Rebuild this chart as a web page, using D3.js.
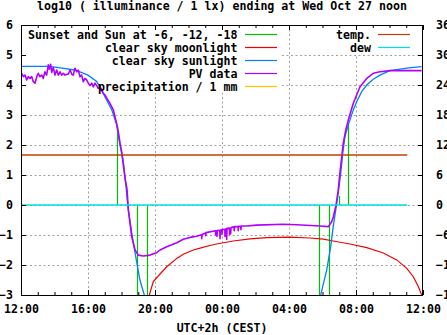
<!DOCTYPE html>
<html><head><meta charset="utf-8">
<script src="https://cdn.jsdelivr.net/npm/d3@7"></script>
<style>
html,body{margin:0;padding:0;background:#fff;}
svg{display:block;}
text{font-family:"DejaVu Sans Mono","Liberation Mono",monospace;font-weight:bold;font-size:11.6px;fill:#000;}
</style></head><body>
<svg id="c" width="447" height="335"></svg>
<script>
// ---------- data (hours after 12:00 on Oct 26) ----------
const title = "log10 ( illuminance / 1 lx) ending at Wed Oct 27 noon";
const xLabel = "UTC+2h (CEST)";
const xTickHours = [0, 4, 8, 12, 16, 20, 24];
const xTickLabels = ["12:00", "16:00", "20:00", "00:00", "04:00", "08:00", "12:00"];
const yLeftTicks = [-3, -2, -1, 0, 1, 2, 3, 4, 5, 6];
const yRightTicks = [-18, -12, -6, 0, 6, 12, 18, 24, 30, 36];

// Sunset / sunrise and Sun at -6, -12, -18 degrees: [hour, value]
const sunEvents = [[5.74, 2.6], [6.31, 0.5], [6.94, -3.5], [7.54, -3.5],
                   [17.81, -3.5], [18.41, -3.5], [19.00, 0.3], [19.54, 2.7]];

// clear sky moonlight
const moonlight = [[7.66, -3.0], [7.90, -2.55], [8.30, -2.3], [8.70, -2.06], [9.30, -1.78],
  [9.69, -1.64], [10.29, -1.5], [10.69, -1.44], [11.28, -1.35], [11.68, -1.3], [12.67, -1.2],
  [13.67, -1.13], [14.67, -1.09], [16.06, -1.07], [17.25, -1.1], [18.05, -1.14], [18.64, -1.2],
  [19.64, -1.3], [20.64, -1.42], [21.63, -1.6], [22.43, -1.83], [23.03, -2.11], [23.42, -2.39],
  [23.72, -2.72], [23.92, -3.0]];

// clear sky sunlight (null = gap during the night)
const sunlight = [[0, 4.62], [1.73, 4.62], [2.33, 4.57], [3.22, 4.5], [4.0, 4.33], [4.52, 4.12],
  [4.91, 3.72], [5.42, 3.17], [5.71, 2.67], [5.91, 2.0], [6.11, 1.44], [6.21, 0.94], [6.41, -0.17],
  [6.61, -0.93], [6.81, -1.6], [7.10, -2.5], [7.36, -3.0], [7.45, -3.4], [12, null],
  [17.85, -3.4], [17.89, -3.0], [18.25, -2.17], [18.49, -1.39], [18.64, -0.72], [18.81, -0.1],
  [18.94, 0.4], [19.09, 1.07], [19.21, 1.73], [19.34, 2.28], [19.54, 2.67], [19.84, 3.17],
  [20.04, 3.44], [20.34, 3.78], [20.64, 4.0], [21.03, 4.19], [21.43, 4.33], [22.03, 4.48],
  [23.03, 4.56], [23.92, 4.61]];

// PV data
const pvData = [[0.00, 4.39], [0.04, 4.39], [0.14, 4.28], [0.24, 4.33], [0.34, 4.17], [0.44, 4.28],
  [0.54, 4.22], [0.64, 4.28], [0.73, 4.11], [0.84, 4.06], [0.94, 4.28], [1.03, 4.39], [1.13, 4.28],
  [1.24, 4.33], [1.33, 4.22], [1.43, 4.44], [1.53, 4.33], [1.63, 4.67], [1.69, 4.53], [1.77, 4.69],
  [1.83, 4.42], [1.93, 4.58], [2.03, 4.33], [2.13, 4.50], [2.23, 4.33], [2.33, 4.44], [2.43, 4.33],
  [2.53, 4.39], [2.63, 4.33], [2.73, 4.36], [2.82, 4.36], [2.93, 4.50], [3.03, 4.36], [3.12, 4.33],
  [3.22, 4.56], [3.33, 4.44], [3.42, 4.50], [3.52, 4.28], [3.62, 4.33], [3.72, 4.11], [3.82, 4.22],
  [3.92, 4.17], [4.02, 4.06], [4.12, 3.98], [4.22, 4.06], [4.32, 3.94], [4.42, 4.06], [4.52, 3.98],
  [4.61, 3.89], [4.72, 3.94], [4.82, 3.83], [4.91, 3.72], [5.01, 3.67], [5.12, 3.56], [5.31, 3.39],
  [5.51, 3.17], [5.61, 2.94], [5.71, 2.72], [5.81, 2.44], [5.91, 2.06], [6.01, 1.78], [6.11, 1.33],
  [6.21, 0.89], [6.32, 0.56], [6.41, -0.17], [6.51, -0.61], [6.61, -1.06], [6.81, -1.5],
  [7.00, -1.67], [7.30, -1.70], [7.70, -1.67], [8.10, -1.59], [8.30, -1.50], [8.70, -1.39],
  [9.30, -1.26], [9.69, -1.14], [10.09, -1.08], [10.49, -1.04], [10.78, -0.99], [10.79, -1.12],
  [10.81, -0.98], [11.02, -0.93], [11.03, -1.02], [11.05, -0.92], [11.61, -0.86], [11.62, -1.0],
  [11.64, -0.86], [11.69, -0.86], [11.70, -1.05], [11.72, -0.85], [11.87, -0.84], [11.88, -1.12],
  [11.90, -0.84], [11.99, -0.83], [12.00, -0.98], [12.02, -0.82], [12.17, -0.81], [12.18, -1.05],
  [12.20, -0.80], [12.27, -0.79], [12.28, -1.15], [12.30, -0.78], [12.44, -0.77], [12.45, -0.98],
  [12.52, -0.95], [12.54, -0.75], [12.72, -0.73], [12.73, -0.86], [12.75, -0.72], [12.96, -0.72],
  [12.97, -0.86], [12.99, -0.71], [13.12, -0.71], [13.13, -0.82], [13.15, -0.70], [13.47, -0.70],
  [14.07, -0.67], [15.64, -0.64], [16.46, -0.66], [17.85, -0.70], [18.35, -0.72], [18.55, -0.56],
  [18.65, -0.39], [18.81, 0.0], [18.94, 0.5], [19.04, 1.06], [19.15, 1.61], [19.24, 2.06],
  [19.39, 2.5], [19.54, 2.83], [19.84, 3.39], [20.24, 3.94], [20.64, 4.22], [21.03, 4.39],
  [21.43, 4.44], [22.03, 4.48], [23.92, 4.48]];

// precipitation / 1 mm (none in this period)
const precipitation = [];

// temperature and dew point (right axis, deg C)
const temperature = [[0, 10], [23.06, 10]];
const dewPoint = [[0, 0], [23.06, 0]];

const legendLeft = [["Sunset and Sun at -6, -12, -18", "#00c000"], ["clear sky moonlight", "#ee0000"],
  ["clear sky sunlight", "#0080ff"], ["PV data", "#b000ff"], ["precipitation / 1 mm", "#ffc000"]];
const legendRight = [["temp.", "#c04000"], ["dew", "#00e0e0"]];

// ---------- drawing ----------
const L = 21, R = 423, T = 25, B = 295;
const svg = d3.select("#c");
const x = d3.scaleLinear().domain([0, 24]).range([L, R]);
const y = d3.scaleLinear().domain([-3, 6]).range([B, T]);
const yR = d3.scaleLinear().domain([-18, 36]).range([B, T]);

svg.append("defs").append("clipPath").attr("id", "clip")
  .append("rect").attr("x", L).attr("y", T).attr("width", R - L).attr("height", B - T);

// grid
const grid = svg.append("g").attr("stroke", "#a0a0a0").attr("stroke-width", 1).attr("stroke-dasharray", "2,2.5");
xTickHours.filter(h => h > 0 && h < 24).forEach(h => {
  const px = Math.round(x(h)) + 0.5;
  grid.append("line").attr("x1", px).attr("x2", px).attr("y1", T).attr("y2", B);
});
yLeftTicks.filter(v => v > -3 && v < 6).forEach(v => {
  const py = Math.round(y(v)) + 0.5;
  grid.append("line").attr("x1", L).attr("x2", R).attr("y1", py).attr("y2", py);
});

// opaque key backgrounds
svg.append("rect").attr("x", 23).attr("y", 26).attr("width", 259).attr("height", 67).attr("fill", "#fff");
svg.append("rect").attr("x", 330).attr("y", 26).attr("width", 84).attr("height", 28).attr("fill", "#fff");

const plot = svg.append("g").attr("clip-path", "url(#clip)");
const lineL = d3.line().defined(d => d[1] != null).x(d => x(d[0])).y(d => y(d[1]));
const lineR = d3.line().x(d => x(d[0])).y(d => yR(d[1]));

// sun events (impulses)
plot.append("g").selectAll("line").data(sunEvents).join("line")
  .attr("x1", d => Math.round(x(d[0])) + 0.5).attr("x2", d => Math.round(x(d[0])) + 0.5)
  .attr("y1", y(0)).attr("y2", d => y(d[1]))
  .attr("stroke", legendLeft[0][1]).attr("stroke-width", 1.2);

plot.append("path").datum(moonlight).attr("d", lineL).attr("fill", "none")
  .attr("stroke", legendLeft[1][1]).attr("stroke-width", 1.2);
plot.append("path").datum(sunlight).attr("d", lineL).attr("fill", "none")
  .attr("stroke", legendLeft[2][1]).attr("stroke-width", 1.3);
plot.append("path").datum(pvData).attr("d", lineL).attr("fill", "none")
  .attr("stroke", legendLeft[3][1]).attr("stroke-width", 1.6).attr("stroke-linejoin", "round");
plot.append("path").datum(precipitation).attr("d", lineL).attr("fill", "none")
  .attr("stroke", legendLeft[4][1]).attr("stroke-width", 1.2);
plot.append("path").datum(temperature).attr("d", lineR).attr("fill", "none")
  .attr("stroke", legendRight[0][1]).attr("stroke-width", 1.3);
plot.append("path").datum(dewPoint).attr("d", lineR).attr("fill", "none")
  .attr("stroke", legendRight[1][1]).attr("stroke-width", 1.3);

// axes
function styleAxis(g) {
  g.select(".domain").remove();
  g.selectAll(".tick line").attr("stroke", "#000");
  g.selectAll("text").style("font-family", null).style("font-size", null).attr("fill", "#000");
  g.attr("font-family", null).attr("font-size", null);
}
svg.append("g").attr("transform", `translate(0,${B})`)
  .call(d3.axisBottom(x).tickValues(xTickHours).tickSize(-5).tickPadding(10)
    .tickFormat((d, i) => xTickLabels[i])).call(styleAxis);
svg.append("g").attr("transform", `translate(0,${B})`)
  .call(d3.axisBottom(x).tickValues(d3.range(0, 25)).tickSize(-3).tickFormat("")).call(styleAxis);
svg.append("g").attr("transform", `translate(0,${T})`)
  .call(d3.axisTop(x).tickValues(xTickHours).tickSize(-5).tickFormat("")).call(styleAxis);
svg.append("g").attr("transform", `translate(0,${T})`)
  .call(d3.axisTop(x).tickValues(d3.range(0, 25)).tickSize(-3).tickFormat("")).call(styleAxis);
svg.append("g").attr("transform", `translate(${L},0)`)
  .call(d3.axisLeft(y).tickValues(yLeftTicks).tickSize(-5).tickPadding(8).tickFormat(d3.format("d")))
  .call(styleAxis);
svg.append("g").attr("transform", `translate(${R},0)`)
  .call(d3.axisRight(yR).tickValues(yRightTicks).tickSize(-5).tickPadding(13).tickFormat(d3.format("d")))
  .call(styleAxis);

// frame
svg.append("rect").attr("x", L + 0.5).attr("y", T + 0.5).attr("width", R - L - 1).attr("height", B - T)
  .attr("fill", "none").attr("stroke", "#000");

// title and x label
svg.append("text").attr("x", 222).attr("y", 10).attr("text-anchor", "middle").text(title);
svg.append("text").attr("x", 222).attr("y", 331.5).attr("text-anchor", "middle").text(xLabel);

// legend
legendLeft.forEach((d, i) => {
  const cy = 34.5 + i * 13;
  svg.append("text").attr("x", 237.5).attr("y", cy + 4).attr("text-anchor", "end").text(d[0]);
  svg.append("line").attr("x1", 245).attr("x2", 277).attr("y1", cy).attr("y2", cy)
    .attr("stroke", d[1]).attr("stroke-width", 1.2);
});
legendRight.forEach((d, i) => {
  const cy = 34.5 + i * 13;
  svg.append("text").attr("x", 371).attr("y", cy + 4).attr("text-anchor", "end").text(d[0]);
  svg.append("line").attr("x1", 378).attr("x2", 410).attr("y1", cy).attr("y2", cy)
    .attr("stroke", d[1]).attr("stroke-width", 1.2);
});
</script>
</body></html>
